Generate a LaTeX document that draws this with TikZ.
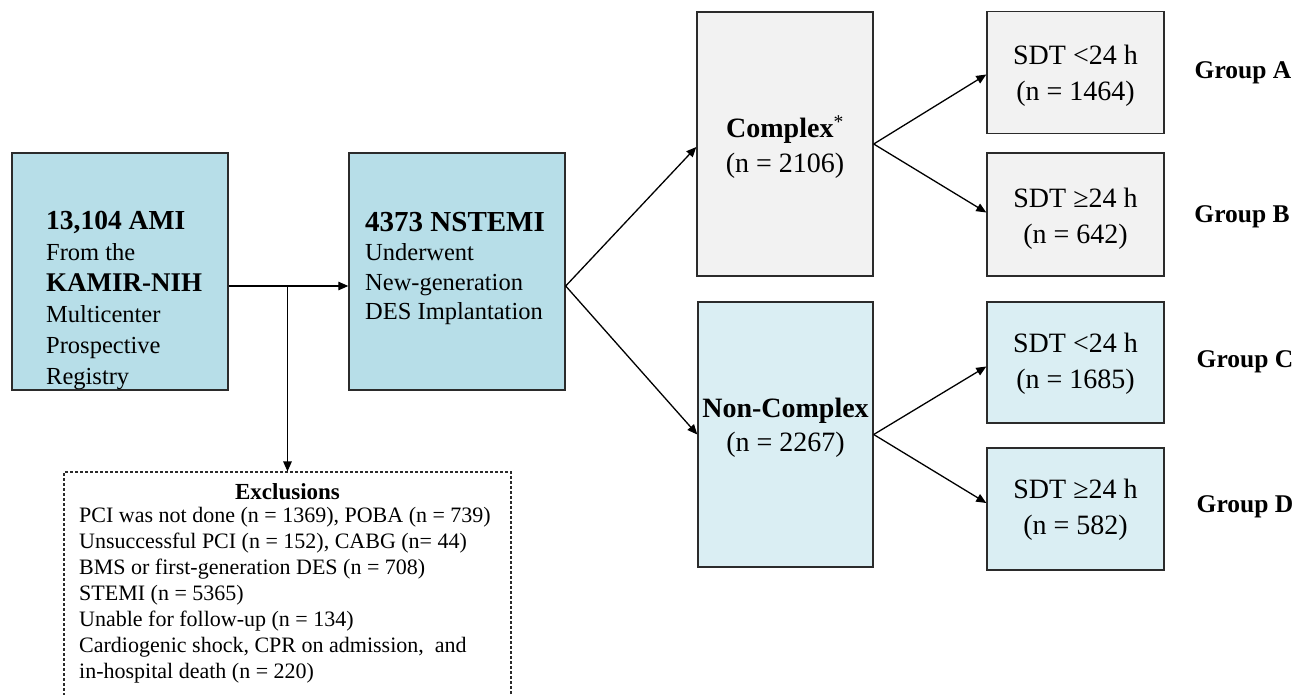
\documentclass[tikz,border=0pt]{standalone}
\usepackage{fontspec}
\setmainfont{Liberation Serif}
\usetikzlibrary{arrows.meta}
\definecolor{aqua}{HTML}{B7DEE8}
\definecolor{paleaqua}{HTML}{DAEEF3}
\definecolor{palegray}{HTML}{F2F2F2}
\definecolor{edge}{HTML}{2B2B2B}

\begin{document}
\begin{tikzpicture}[x=1pt,y=-1pt,
  box/.style={draw=edge, line width=1.4pt, rectangle, inner sep=0pt},
  dashbox/.style={draw=edge, line width=1.1pt, rectangle, dash pattern=on 3pt off 2pt, fill=white},
  arr/.style={-{Triangle[length=10pt,width=8.5pt]}, line width=1.3pt, draw=black},
  txt/.style={inner sep=0pt, align=left, anchor=north west},
  bigtxt/.style={inner sep=0pt, align=center, font=\fontsize{28}{36}\selectfont},
  grp/.style={inner sep=0pt, font=\fontsize{25.5}{30}\selectfont\bfseries}]
\useasboundingbox (0,0) rectangle (1312,694);
\clip (0,0) rectangle (1312,694);

% main boxes
\node[box, fill=aqua, minimum width=216pt, minimum height=237pt] (ami) at (120,271.5) {};
\node[box, fill=aqua, minimum width=216pt, minimum height=237pt] (nst) at (457,271.5) {};
\node[box, fill=palegray, minimum width=176pt, minimum height=264pt] (cx) at (785,144) {};
\node[box, fill=paleaqua, minimum width=175pt, minimum height=265pt] (nc) at (785.5,434.5) {};
\node[bigtxt, font=\fontsize{28}{35}\selectfont] (cxT) at (785,147.5)
  {\textbf{Complex}\textsuperscript{*}\\(n = 2106)};
\node[bigtxt, font=\fontsize{28}{34}\selectfont] (ncT) at (785.5,427.5)
  {\textbf{Non-Complex}\\(n = 2267)};

% subgroup boxes
\node[box, fill=palegray, minimum width=177pt, minimum height=122pt] (ga) at (1075.5,72.5) {};
\node[box, fill=palegray, minimum width=177pt, minimum height=123pt] (gb) at (1075.5,214.5) {};
\node[box, fill=paleaqua, minimum width=177pt, minimum height=121pt] (gc) at (1075.5,362.5) {};
\node[box, fill=paleaqua, minimum width=177pt, minimum height=122pt] (gd) at (1075.5,509) {};
\node[bigtxt] (gaT) at (1075.5,76) {SDT <24 h\\(n = 1464)};
\node[bigtxt] (gbT) at (1075.5,219) {SDT ≥24 h\\(n = 642)};
\node[bigtxt] (gcT) at (1075.5,363.5) {SDT <24 h\\(n = 1685)};
\node[bigtxt] (gdT) at (1075.5,509.5) {SDT ≥24 h\\(n = 582)};

% group labels
\node[grp] (la) at (1243,73) {Group A};
\node[grp] (lb) at (1242,217) {Group B};
\node[grp] (lc) at (1245,362) {Group C};
\node[grp] (ld) at (1245,507) {Group D};

% box texts
\node[txt, font=\fontsize{24.5}{31}\selectfont] (amiT) at (46,211)
  {{\fontsize{27.5}{31}\selectfont\bfseries 13,104 AMI}\\
   From the\\
   {\fontsize{27}{31}\selectfont\bfseries KAMIR-NIH}\\
   Multicenter\\
   Prospective\\
   Registry};
\node[txt, font=\fontsize{24.5}{29.5}\selectfont] (nstT) at (365,212)
  {{\fontsize{29}{29.5}\selectfont\bfseries 4373 NSTEMI}\\
   Underwent\\
   New-generation\\
   DES Implantation};

% exclusions
\node[dashbox, minimum width=447pt, minimum height=250pt] (excl) at (287.5,597) {};
\node[inner sep=0pt, anchor=base, font=\fontsize{23}{26}\selectfont\bfseries] (exT) at (287.5,499) {Exclusions};
\node[txt, font=\fontsize{22}{26}\selectfont] (exL) at (79,507.5)
  {PCI was not done (n = 1369), POBA (n = 739)\\
   Unsuccessful PCI (n = 152), CABG (n= 44)\\
   BMS or first-generation DES (n = 708)\\
   STEMI (n = 5365)\\
   Unable for follow-up (n = 134)\\
   Cardiogenic shock, CPR on admission,\ \ and\\
   in-hospital death (n = 220)};

% connectors
\coordinate (j) at (287.5,286);
\coordinate (s) at (nst.east |- j);
\draw[arr] (ami.east |- j) -- (nst.west |- j);
\draw[arr] (j) -- (j |- excl.north);
\draw[arr] (s) -- ([yshift=-3pt]cx.west);
\draw[arr] (s) -- (nc.west);
\draw[arr] (cx.east) -- ([yshift=-2pt]ga.west);
\draw[arr] (cx.east) -- ([yshift=2pt]gb.west);
\draw[arr] (nc.east) -- ([yshift=-4pt]gc.west);
\draw[arr] (nc.east) -- ([yshift=6pt]gd.west);
\end{tikzpicture}
\end{document}
